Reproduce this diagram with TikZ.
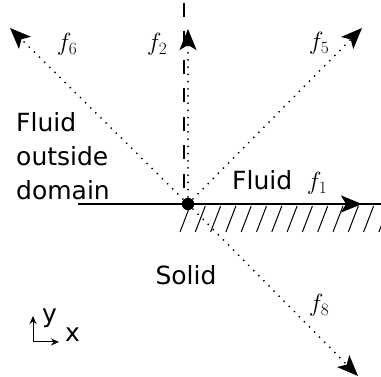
\documentclass[tikz,border=0pt]{standalone}
\usepackage{fontspec}
\setmainfont{DejaVu Sans}
\usetikzlibrary{arrows.meta}
\begin{document}
\begin{tikzpicture}[x=1pt,y=-1pt,
  lbl/.style={inner sep=0pt, font=\fontsize{25}{34}\selectfont},
  ray/.style={line width=2pt, dash pattern=on 0pt off 7.2pt, line cap=round,
    -{Stealth[length=21pt,width=17pt,inset=5pt]}},
  wall/.style={line width=1.2pt},
  hatch/.style={line width=1pt},
  axis/.style={line width=1pt, -{Stealth[length=8pt,width=7pt]}}]
\useasboundingbox (0,0) rectangle (381,377);

% lattice node on the wall and its link directions
\coordinate (c) at (188,204);
\coordinate (t1) at (362,204);
\coordinate (t2) at (188,29);
\coordinate (t5) at (362,28);
\coordinate (t6) at (10,28);
\coordinate (t8) at (358,376);

% domain boundary (dashed vertical)
\coordinate (btop) at (184,3);
\coordinate (bbot) at (184,204);
\draw[line width=2pt, dash pattern=on 14pt off 14.5pt] (btop) -- (bbot);

% solid wall with hatching
\coordinate (wl) at (78,204);
\coordinate (wr) at (381,204);
\begin{scope}
  \clip (0,0) rectangle (381,377);
  \foreach \k in {0,...,13}
    \draw[hatch] (180+15.3*\k,232) -- ++(10,-26);
\end{scope}
\draw[wall] (wl) -- (wr);

% discrete velocity links
\draw[ray] (c) -- (t1);
\draw[ray] (c) -- (t2);
\draw[ray] (c) -- (t5);
\draw[ray] (c) -- (t6);
\draw[ray] (c) -- (t8);
\fill (c) circle (6.2);

% labels
\node[lbl, anchor=base] (l1) at (317,190) {$f_1$};
\node[lbl, anchor=base] (l2) at (157,51) {$f_2$};
\node[lbl, anchor=base] (l5) at (319,50) {$f_5$};
\node[lbl, anchor=base] (l6) at (67,51) {$f_6$};
\node[lbl, anchor=base] (l8) at (319,312) {$f_8$};
\node[lbl, anchor=base west] (fl) at (232,190) {Fluid};
\node[lbl, anchor=base] (so) at (186,285) {Solid};
\node[lbl, anchor=base west, align=left] (out) at (16,200) {Fluid\\outside\\domain};

% coordinate axes
\coordinate (o) at (33,342);
\coordinate (ay) at (33,316);
\coordinate (ax) at (59,342);
\draw[axis] (o) -- (ay);
\draw[axis] (o) -- (ax);
\node[lbl, anchor=base west] (ly) at (42,323) {y};
\node[lbl, anchor=base west] (lx) at (65,342) {x};
\end{tikzpicture}
\end{document}
